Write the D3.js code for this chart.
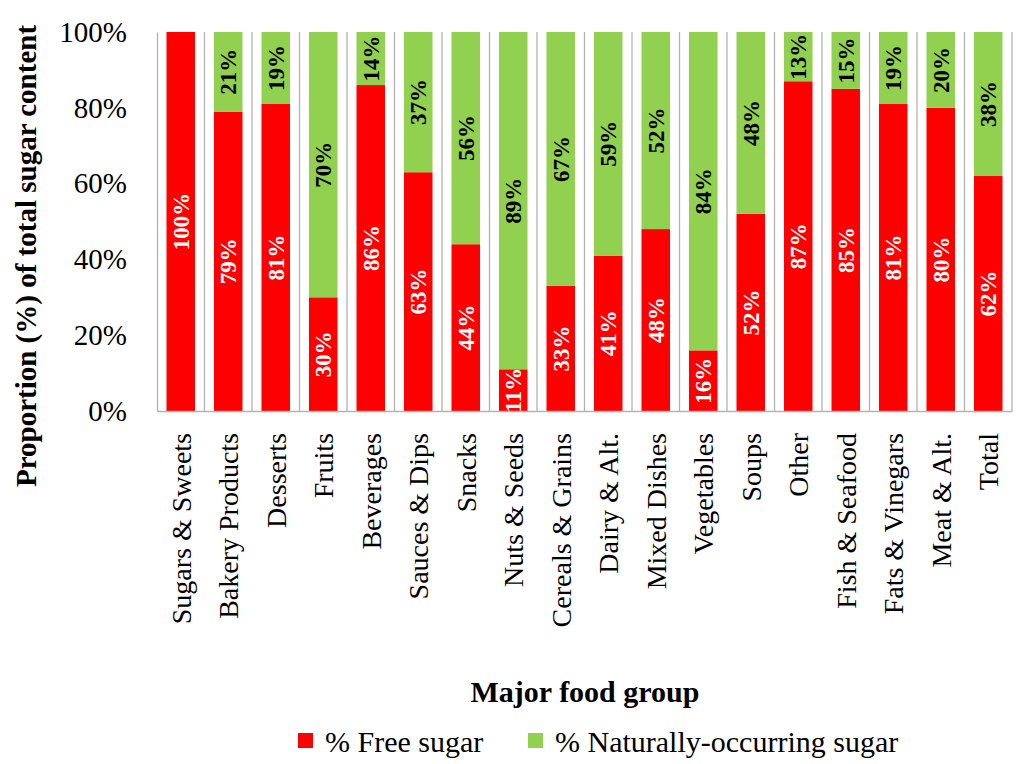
<!DOCTYPE html>
<html>
<head>
<meta charset="utf-8">
<script src="https://cdn.jsdelivr.net/npm/d3@7"></script>
<style>
  body { margin: 0; background: #fff; }
  svg text { font-family: "Liberation Serif", "DejaVu Serif", serif; }
</style>
</head>
<body>
<script>
// food groups, in the order they appear on the x axis
var categories = ["Sugars & Sweets", "Bakery Products", "Desserts", "Fruits", "Beverages",
  "Sauces & Dips", "Snacks", "Nuts & Seeds", "Cereals & Grains", "Dairy & Alt.",
  "Mixed Dishes", "Vegetables", "Soups", "Other", "Fish & Seafood", "Fats & Vinegars",
  "Meat & Alt.", "Total"];
var freeSugar = [100, 79, 81, 30, 86, 63, 44, 11, 33, 41, 48, 16, 52, 87, 85, 81, 80, 62];
var naturalSugar = [0, 21, 19, 70, 14, 37, 56, 89, 67, 59, 52, 84, 48, 13, 15, 19, 20, 38];
var seriesNames = ["% Free sugar", "% Naturally-occurring sugar"];
var yTicks = [0, 20, 40, 60, 80, 100];

var W = 1024, H = 764;
// plot box (note: "top" is reserved on window, so use own names)
var plotLeft = 157, plotRight = 1012, plotTop = 32, plotBottom = 411;

var svg = d3.select("body").append("svg").attr("width", W).attr("height", H);

var x = d3.scaleBand().domain(categories).range([plotLeft, plotRight]).paddingInner(0.4).paddingOuter(0.2);
var xCell = d3.scaleBand().domain(categories).range([plotLeft, plotRight]);
var y = d3.scaleLinear().domain([0, 100]).range([plotBottom, plotTop]);
var color = d3.scaleOrdinal().domain(seriesNames).range(["#ff0000", "#92d050"]);

// build stacked rows
var rows = categories.map(function (c, i) {
  var r = {cat: c};
  r[seriesNames[0]] = freeSugar[i];
  r[seriesNames[1]] = naturalSugar[i];
  return r;
});
var stacked = d3.stack().keys(seriesNames)(rows);

// vertical separators between categories
svg.append("g").selectAll("line").data(categories.slice(1)).enter().append("line")
  .attr("x1", function (d) { return xCell(d); })
  .attr("x2", function (d) { return xCell(d); })
  .attr("y1", plotTop).attr("y2", plotBottom)
  .attr("stroke", "#b3b3b3").attr("stroke-width", 1.3);
svg.append("line").attr("x1", plotRight).attr("x2", plotRight).attr("y1", plotTop).attr("y2", plotBottom)
  .attr("stroke", "#b3b3b3").attr("stroke-width", 1.3);

// bars
var layers = svg.append("g").selectAll("g").data(stacked).enter().append("g")
  .attr("fill", function (d) { return color(d.key); });
layers.selectAll("rect").data(function (d) { return d; }).enter().append("rect")
  .attr("x", function (d) { return x(d.data.cat); })
  .attr("width", x.bandwidth())
  .attr("y", function (d) { return y(d[1]); })
  .attr("height", function (d) { return y(d[0]) - y(d[1]); });

// value labels inside the segments
stacked.forEach(function (layer, li) {
  svg.append("g").selectAll("text").data(layer.filter(function (d) { return d[1] - d[0] > 0; }))
    .enter().append("text")
    .attr("transform", function (d) {
      var cx = x(d.data.cat) + x.bandwidth() / 2;
      var cy = y((d[0] + d[1]) / 2);
      return "translate(" + cx + "," + cy + ") rotate(-90)";
    })
    .attr("text-anchor", "middle").attr("dy", "0.35em")
    .attr("font-size", 23).attr("font-weight", "bold")
    .attr("fill", li === 0 ? "#ffffff" : "#000000")
    .text(function (d) { return (d[1] - d[0]) + "%"; });
});

// axes
var yAxis = d3.axisLeft(y).tickValues(yTicks).tickSize(0).tickPadding(30)
  .tickFormat(function (d) { return d + "%"; });
var gy = svg.append("g").attr("transform", "translate(" + plotLeft + ",0)").call(yAxis);
gy.select(".domain").attr("stroke", "#b3b3b3").attr("stroke-width", 1.3);
gy.selectAll("text").attr("font-size", 29).attr("fill", "#000")
  .attr("font-family", "Liberation Serif");

var xAxis = d3.axisBottom(xCell).tickSize(0).tickPadding(0);
var gx = svg.append("g").attr("transform", "translate(0," + plotBottom + ")").call(xAxis);
gx.select(".domain").attr("stroke", "#b3b3b3").attr("stroke-width", 1.3);
gx.selectAll("text")
  .attr("font-size", 28).attr("fill", "#000").attr("font-family", "Liberation Serif")
  .attr("text-anchor", "end").attr("y", 0).attr("dy", "0.35em")
  .attr("transform", "translate(0,22) rotate(-90)");

// axis titles
svg.append("text").attr("transform", "translate(36,256) rotate(-90)")
  .attr("text-anchor", "middle").attr("font-size", 29).attr("font-weight", "bold")
  .text("Proportion (%) of total sugar content");
svg.append("text").attr("x", 585).attr("y", 702)
  .attr("text-anchor", "middle").attr("font-size", 30).attr("font-weight", "bold")
  .text("Major food group");

// legend
var legendX = [298, 528];
var lg = svg.append("g").selectAll("g").data(seriesNames).enter().append("g")
  .attr("transform", function (d, i) { return "translate(" + legendX[i] + ",733)"; });
lg.append("rect").attr("width", 15).attr("height", 15).attr("fill", function (d) { return color(d); });
lg.append("text").attr("x", 27).attr("y", 8).attr("dy", "0.35em")
  .attr("font-size", 30).text(function (d) { return d; });
</script>
</body>
</html>
